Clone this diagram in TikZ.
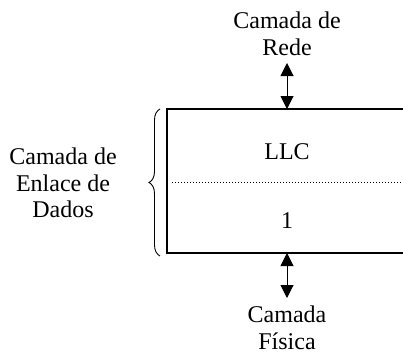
\documentclass[tikz,border=0pt]{standalone}
\usepackage{fontspec}
\setmainfont{Liberation Serif}
\usetikzlibrary{arrows.meta,decorations.pathreplacing}
\begin{document}
\begin{tikzpicture}[x=1pt,y=-1pt,
	lbl/.style={align=center,font=\fontsize{24}{26.5}\selectfont,inner sep=0pt},
	link/.style={{Triangle[width=13pt,length=13pt]}-{Triangle[width=13pt,length=13pt]},line width=1pt}]
	\useasboundingbox (0,0) rectangle (403,354);
	\draw [line width=1.4pt] (403,109) -- (167,109) -- (167,253) -- (403,253);
	\draw [dotted, line width=1pt] (172,182) -- (403,182);
	\draw [decorate, decoration={brace,amplitude=11pt}, line width=0.9pt] (160,256) -- (160,109);
	\node[lbl] (rede) at (287,34) {Camada de\\Rede};
	\node[lbl] (llc) at (287,152) {LLC};
	\node[lbl] (um) at (287,221) {1};
	\node[lbl] (fisica) at (287,328) {Camada\\Física};
	\node[lbl] (enlace) at (63,183) {Camada de\\Enlace de\\Dados};
	\coordinate (redearr) at (287,63);
	\coordinate (boxtop) at (287,109);
	\coordinate (boxbot) at (287,253);
	\coordinate (fisarr) at (287,298);
	\draw [link] (redearr) -- (boxtop);
	\draw [link] (boxbot) -- (fisarr);
\end{tikzpicture}
\end{document}
